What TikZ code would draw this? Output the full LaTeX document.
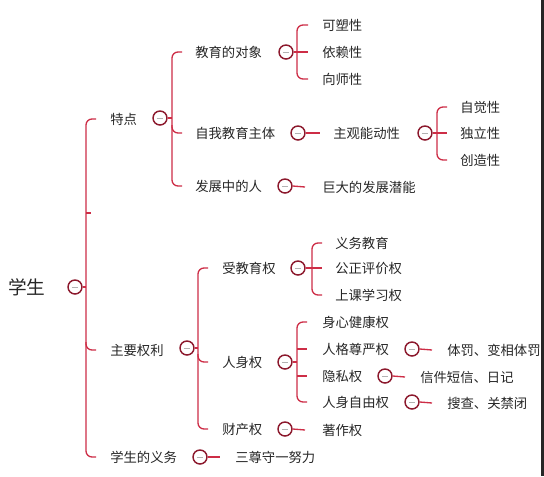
\documentclass[tikz,border=0pt]{standalone}
\usepackage{fontspec}
\newfontfamily\cjk{Noto Sans CJK SC}
\definecolor{linered}{RGB}{205,45,70}
\definecolor{knobred}{RGB}{140,25,45}

\begin{document}
\begin{tikzpicture}[x=0.75pt,y=-0.75pt,
  txt/.style={anchor=west,inner sep=0pt,font=\cjk\fontsize{10}{12}\selectfont,text=black!85},
  knob/.style={circle,draw=knobred,line width=1.1pt,fill=white,minimum size=10.5pt,inner sep=0pt,
    path picture={\draw[gray!60,line width=0.6pt] ([xshift=-2.4pt]path picture bounding box.center) -- ([xshift=2.4pt]path picture bounding box.center);}},
  br/.style={draw=linered,line width=1pt,rounded corners=4.5pt}]
  \useasboundingbox (0,0) rectangle (544,476);
  \fill[black!85] (541,0) rectangle (544,476);

  \node[txt,font=\cjk\fontsize{14}{16}\selectfont] (xs) at (8,287) {学生};
  \node[knob] (k0) at (75,287) {};
  \coordinate (b0) at (86,287);
  \coordinate (stub) at (86,213);
  \node[txt] (td) at (110,119) {特点};
  \node[txt] (zyql) at (110,350) {主要权利};
  \node[txt] (yw) at (110,457) {学生的义务};
  \draw[br] (k0.east) -- (b0);
  \draw[br] ([shift={(-14,0)}]td.west) -| (b0) |- ([shift={(-14,0)}]yw.west);
  \draw[br] (b0 |- zyql.west) ++(0,-8) |- ([shift={(-14,0)}]zyql.west);
  \draw[br] (stub) -- ++(5,0);

  \node[knob] (ktd) at (160,118) {};
  \coordinate (btd) at (172,118);
  \node[txt] (jydx) at (195,52) {教育的对象};
  \node[txt] (zwjy) at (195,133) {自我教育主体};
  \node[txt] (fzr) at (195,186) {发展中的人};
  \draw[br] (ktd.east) -- (btd);
  \draw[br] ([shift={(-13,0)}]jydx.west) -| (btd) |- ([shift={(-13,0)}]fzr.west);
  \draw[br] (btd |- zwjy.west) ++(0,-8) |- ([shift={(-13,0)}]zwjy.west);

  \node[knob] (kdx) at (286,52) {};
  \coordinate (bdx) at (297,52);
  \node[txt] (ksx) at (322,25) {可塑性};
  \node[txt] (ylx) at (322,52) {依赖性};
  \node[txt] (xsx) at (322,79) {向师性};
  \draw[br] (kdx.east) -- (bdx);
  \draw[br] ([shift={(-14,0)}]ksx.west) -| (bdx) |- ([shift={(-14,0)}]xsx.west);
  \draw[br] (bdx) -- ([shift={(-14,0)}]ylx.west);

  \node[knob] (kzt) at (298,133) {};
  \node[txt] (zgnd) at (333,133) {主观能动性};
  \draw[br] (kzt.east) -- ([shift={(-13,0)}]zgnd.west);
  \node[knob] (knd) at (425,133) {};
  \coordinate (bnd) at (437,133);
  \node[txt] (zjx) at (460,107) {自觉性};
  \node[txt] (dlx) at (460,133) {独立性};
  \node[txt] (czx) at (460,160) {创造性};
  \draw[br] (knd.east) -- (bnd);
  \draw[br] ([shift={(-13,0)}]zjx.west) -| (bnd) |- ([shift={(-13,0)}]czx.west);
  \draw[br] (bnd) -- ([shift={(-13,0)}]dlx.west);

  \node[knob] (kfz) at (285,186) {};
  \node[txt] (qn) at (322,187) {巨大的发展潜能};
  \draw[br] (kfz.east) -- ([shift={(-17,0)}]qn.west);

  \node[knob] (kql) at (187,348) {};
  \coordinate (bql) at (198,348);
  \node[txt] (sjy) at (222,268) {受教育权};
  \node[txt] (rs) at (222,362) {人身权};
  \node[txt] (cc) at (222,429) {财产权};
  \draw[br] (kql.east) -- (bql);
  \draw[br] ([shift={(-14,0)}]sjy.west) -| (bql) |- ([shift={(-14,0)}]cc.west);
  \draw[br] (bql |- rs.west) ++(0,-8) |- ([shift={(-14,0)}]rs.west);

  \node[knob] (kjy) at (298,268) {};
  \coordinate (bjy) at (312,268);
  \node[txt] (ywjy) at (335,243) {义务教育};
  \node[txt] (gzpj) at (335,268) {公正评价权};
  \node[txt] (sxxq) at (335,295) {上课学习权};
  \draw[br] (kjy.east) -- (bjy);
  \draw[br] ([shift={(-13,0)}]ywjy.west) -| (bjy) |- ([shift={(-13,0)}]sxxq.west);
  \draw[br] (bjy) -- ([shift={(-13,0)}]gzpj.west);

  \node[knob] (krs) at (285,362) {};
  \coordinate (brs) at (297,362);
  \node[txt] (sxjk) at (322,322) {身心健康权};
  \node[txt] (rgzy) at (322,349) {人格尊严权};
  \node[txt] (ysq) at (322,376) {隐私权};
  \node[txt] (rszy) at (322,402) {人身自由权};
  \draw[br] (krs.east) -- (brs);
  \draw[br] ([shift={(-15,0)}]sxjk.west) -| (brs) |- ([shift={(-15,0)}]rszy.west);
  \draw[br] (brs |- rgzy.west) -- ([shift={(-15,0)}]rgzy.west);
  \draw[br] (brs |- ysq.west) -- ([shift={(-15,0)}]ysq.west);

  \node[knob] (kzy) at (412,349) {};
  \node[txt] (tf) at (447,350) {体罚、变相体罚};
  \draw[br] (kzy.east) -- ([shift={(-15,0)}]tf.west);
  \node[knob] (kys) at (385,376) {};
  \node[txt] (xj) at (420,377) {信件短信、日记};
  \draw[br] (kys.east) -- ([shift={(-15,0)}]xj.west);
  \node[knob] (kzu) at (412,402) {};
  \node[txt] (sc) at (447,403) {搜查、关禁闭};
  \draw[br] (kzu.east) -- ([shift={(-15,0)}]sc.west);
  \node[knob] (kcc) at (285,429) {};
  \node[txt] (zzq) at (322,430) {著作权};
  \draw[br] (kcc.east) -- ([shift={(-17,0)}]zzq.west);

  \node[knob] (kyw) at (200,457) {};
  \node[txt] (szs) at (235,457) {三尊守一努力};
  \draw[br] (kyw.east) -- ([shift={(-15,0)}]szs.west);
\end{tikzpicture}
\end{document}
